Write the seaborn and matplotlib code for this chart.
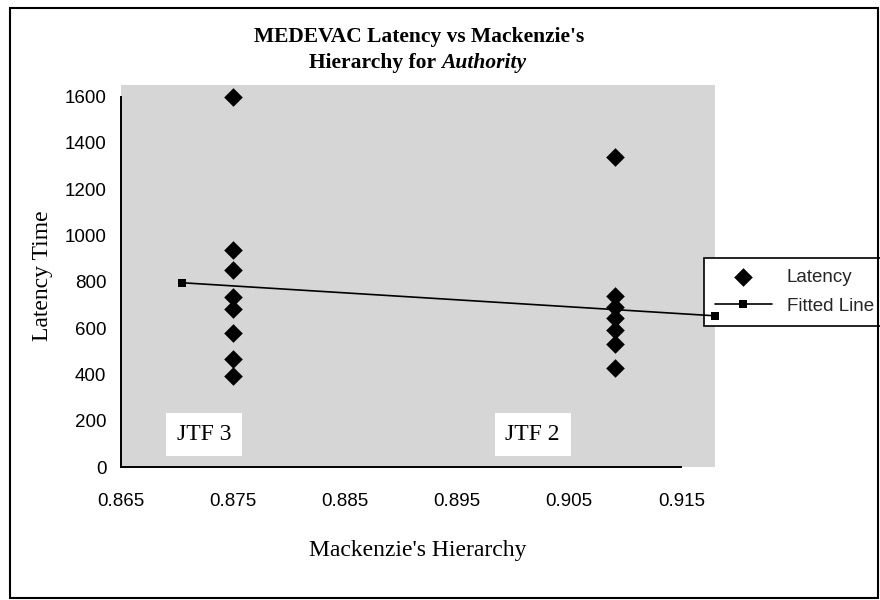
import matplotlib
matplotlib.use("Agg")
import matplotlib.pyplot as plt
import seaborn as sns
import pandas as pd
from matplotlib.patches import Rectangle

# Latency observations for each task force, by Mackenzie's hierarchy score
jtf3_x = 0.875
jtf3_latency = [1600, 938, 852, 735, 683, 579, 467, 393]
jtf2_x = 0.9091
jtf2_latency = [1340, 739, 692, 644, 592, 532, 428]

# Fitted line end points
fit_x = [0.8704, 0.918]
fit_y = [796, 653]

x_ticks = [0.865, 0.875, 0.885, 0.895, 0.905, 0.915]
y_ticks = [0, 200, 400, 600, 800, 1000, 1200, 1400, 1600]

points = pd.DataFrame({
    "hierarchy": [jtf3_x] * len(jtf3_latency) + [jtf2_x] * len(jtf2_latency),
    "latency": jtf3_latency + jtf2_latency,
})
fitted = pd.DataFrame({"hierarchy": fit_x, "latency": fit_y})

sns.set_theme(style="white")
plt.rcParams["font.family"] = ["Liberation Sans", "DejaVu Sans"]

fig = plt.figure(figsize=(8.8, 6.0), dpi=100)
ax = fig.add_axes([121 / 880, 1 - 467 / 600, (715 - 121) / 880, (467 - 85) / 600])
ax.set_facecolor("#d6d6d6")

sns.scatterplot(data=points, x="hierarchy", y="latency", ax=ax, marker="D",
                s=90, color="black", edgecolor="black", linewidth=0,
                label="Latency", zorder=4)
sns.lineplot(data=fitted, x="hierarchy", y="latency", ax=ax, color="black",
             linewidth=1.2, marker="s", markersize=6, markeredgewidth=0,
             label="Fitted Line", zorder=6, clip_on=False)

ax.set_xlim(0.865, 0.918)
ax.set_ylim(0, 1650)
ax.set_xticks(x_ticks)
ax.set_xticklabels([f"{v:.3f}" for v in x_ticks])
ax.set_yticks(y_ticks)
ax.set_yticklabels([str(v) for v in y_ticks])
ax.tick_params(axis="both", direction="inout", length=9, width=1.2,
               color="black", labelsize=13.5, labelcolor="black")
ax.tick_params(axis="x", pad=14)
ax.tick_params(axis="y", pad=6)

for side in ("top", "right"):
    ax.spines[side].set_visible(False)
for side in ("left", "bottom"):
    ax.spines[side].set_color("black")
    ax.spines[side].set_linewidth(1.4)
ax.spines["bottom"].set_bounds(x_ticks[0], x_ticks[-1])
ax.spines["left"].set_bounds(y_ticks[0], y_ticks[-1])

serif = ["Liberation Serif", "DejaVu Serif"]
ax.set_xlabel("Mackenzie's Hierarchy", family=serif, fontsize=17, color="black",
              labelpad=22)
ax.set_ylabel("Latency Time", family=serif, fontsize=17, color="black",
              labelpad=8)

# Group labels
box = dict(boxstyle="square,pad=0.45", facecolor="white", edgecolor="none")
ax.text(0.8700, 140, "JTF 3", family=serif, fontsize=17, color="black",
        ha="left", va="center", bbox=box, zorder=2)
ax.text(0.8993, 140, "JTF 2", family=serif, fontsize=17, color="black",
        ha="left", va="center", bbox=box, zorder=2)

# Title, second line mixes upright and italic
fig.text(0.476, 1 - 37 / 600, "MEDEVAC Latency vs Mackenzie's", family=serif,
         fontsize=15.5, weight="bold", ha="center", va="center", color="black")
renderer = fig.canvas.get_renderer()
part1 = fig.text(0, 1 - 63 / 600, "Hierarchy for ", family=serif, fontsize=15.5,
                 weight="bold", ha="left", va="center", color="black")
part2 = fig.text(0, 1 - 63 / 600, "Authority", family=serif, fontsize=15.5,
                 weight="bold", style="italic", ha="left", va="center",
                 color="black")
w1 = part1.get_window_extent(renderer).width / fig.bbox.width
w2 = part2.get_window_extent(renderer).width / fig.bbox.width
start = 0.474 - (w1 + w2) / 2
part1.set_x(start)
part2.set_x(start + w1)

leg = ax.legend(loc="center left", bbox_to_anchor=(704 / 880, 1 - 292 / 600),
                bbox_transform=fig.transFigure, frameon=True, fancybox=False,
                fontsize=13.5, handlelength=3.0, borderpad=0.6,
                labelspacing=0.6, handletextpad=0.8, borderaxespad=0)
leg.set_zorder(5)
leg.get_frame().set_edgecolor("black")
leg.get_frame().set_linewidth(1.2)
leg.get_frame().set_facecolor("white")
leg.get_frame().set_alpha(1)

# Outer chart frame
fig.patches.append(Rectangle((10 / 880, 2 / 600), 868 / 880, 590 / 600,
                             transform=fig.transFigure, fill=False,
                             edgecolor="black", linewidth=1.5))

fig.savefig("out.png", dpi=100)
